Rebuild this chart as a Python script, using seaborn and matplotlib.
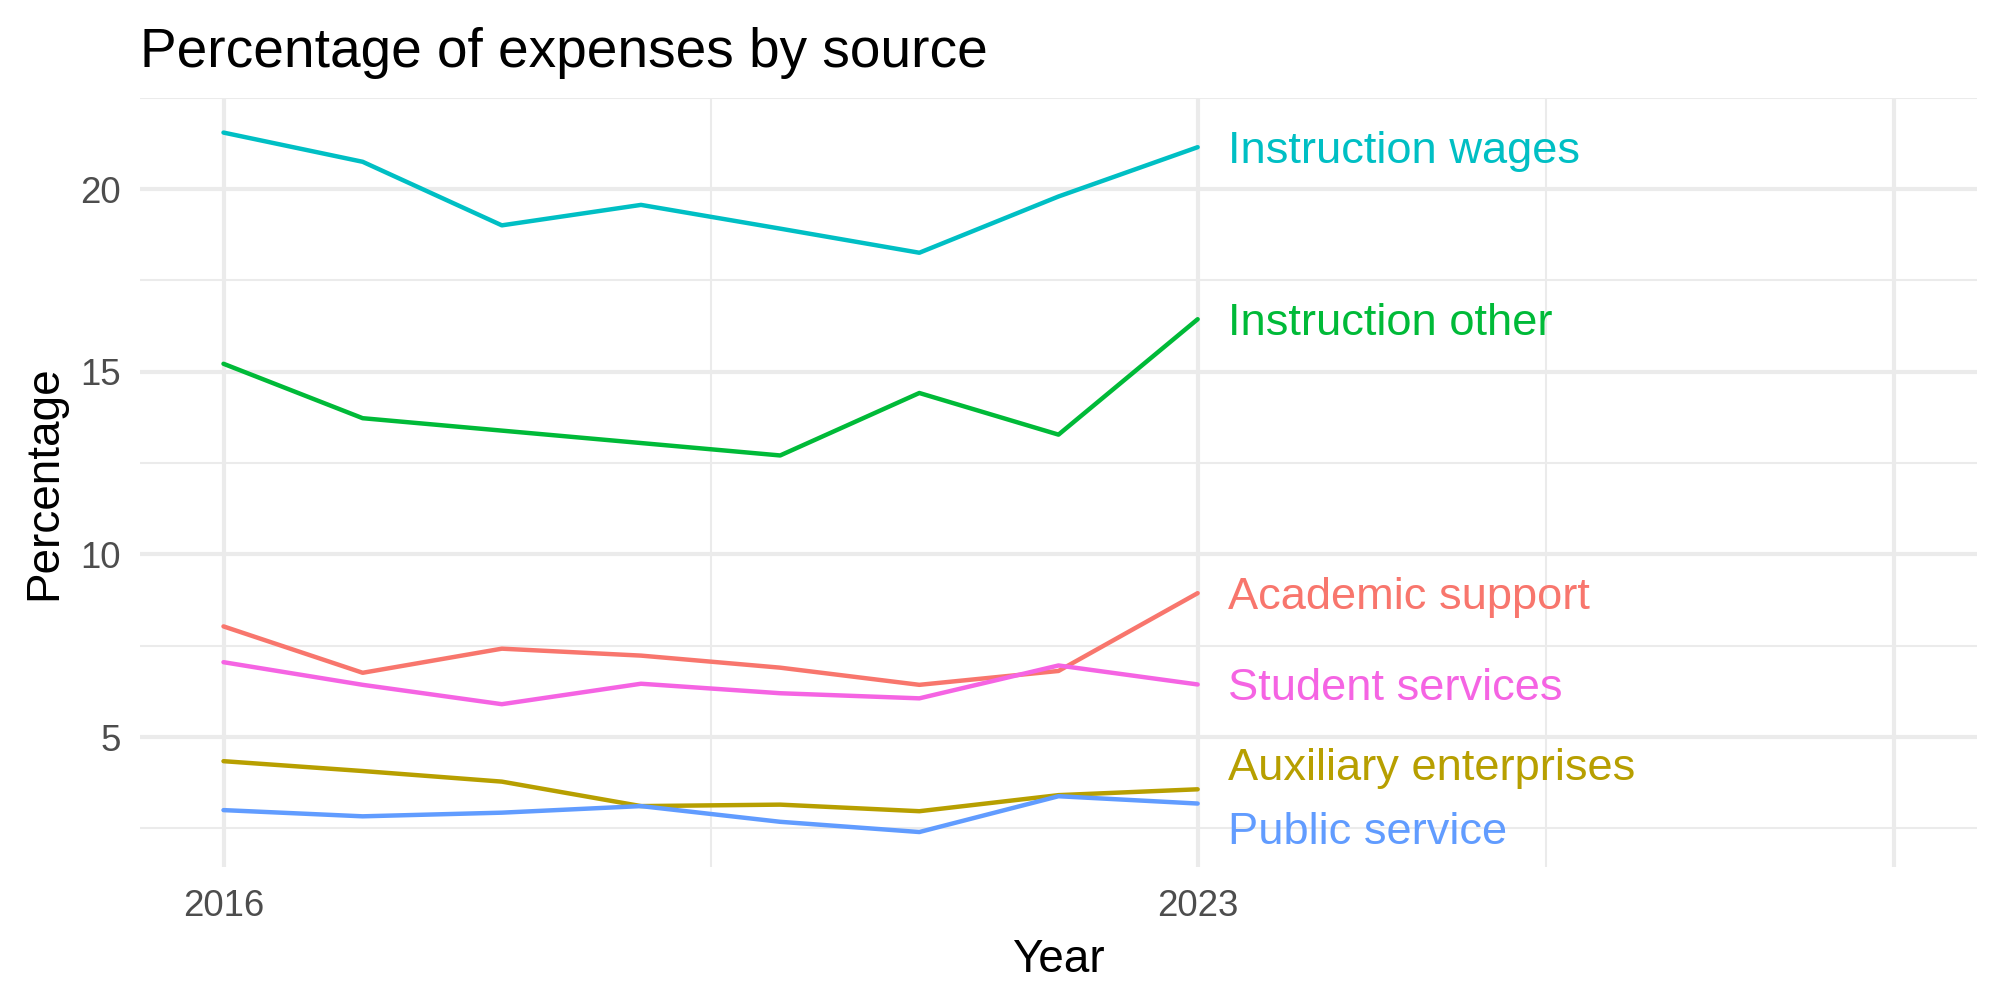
import numpy as np
import pandas as pd
import matplotlib
matplotlib.use('Agg')
import matplotlib.pyplot as plt
import matplotlib.ticker as mticker
import seaborn as sns

# Values
years = [2016, 2017, 2018, 2019, 2020, 2021, 2022, 2023]
academic_support = [8.03, 6.76, 7.42, 7.23, 6.90, 6.43, 6.81, 8.94]
auxiliary_enterprises = [4.34, 4.07, 3.78, 3.11, 3.15, 2.97, 3.41, 3.57]
instruction_other = [15.22, 13.73, 13.39, 13.05, 12.71, 14.42, 13.28, 16.44]
instruction_wages = [21.55, 20.75, 19.01, 19.57, 18.92, 18.26, 19.80, 21.15]
public_service = [3.00, 2.83, 2.93, 3.11, 2.68, 2.40, 3.38, 3.18]
student_services = [7.05, 6.43, 5.90, 6.46, 6.20, 6.06, 6.96, 6.44]

x_ticks = [2016, 2023, 2028]
x_tick_labels = ['2016', '2023', '']
y_ticks = [5, 10, 15, 20]

series = {
    'Academic support': academic_support,
    'Auxiliary enterprises': auxiliary_enterprises,
    'Instruction other': instruction_other,
    'Instruction wages': instruction_wages,
    'Public service': public_service,
    'Student services': student_services,
}

# ggplot2 default hue palette (alphabetical order)
colors = {
    'Academic support': '#F8766D',
    'Auxiliary enterprises': '#B79F00',
    'Instruction other': '#00BA38',
    'Instruction wages': '#00BFC4',
    'Public service': '#619CFF',
    'Student services': '#F564E3',
}

df = pd.concat(
    [pd.DataFrame({'Year': years, 'Percentage': vals, 'Source': name})
     for name, vals in series.items()],
    ignore_index=True,
)

sns.set_theme(style='white')
plt.rcParams['font.family'] = ['Liberation Sans', 'DejaVu Sans']

fig, ax = plt.subplots(figsize=(10, 5), dpi=200)
fig.subplots_adjust(left=0.07, right=0.9885, top=0.9024, bottom=0.133)

sns.lineplot(data=df, x='Year', y='Percentage', hue='Source', palette=colors,
             linewidth=1.6, legend=False, ax=ax)

# simple label repel: push apart end labels that sit too close
last = {name: vals[-1] for name, vals in series.items()}
order = sorted(last, key=last.get)
label_y = dict(last)
min_gap = 1.75
for a, b in zip(order[:-1], order[1:]):
    gap = label_y[b] - label_y[a]
    if gap < min_gap:
        shift = (min_gap - gap) / 2
        label_y[a] -= shift
        label_y[b] += shift

for name in series:
    ax.text(years[-1] + 0.22, label_y[name], name, color=colors[name],
            fontsize=16.3, ha='left', va='center_baseline')

ax.set_xlim(2015.4, 2028.6)
ax.margins(y=0.05)
ax.set_xticks(x_ticks)
ax.set_xticklabels(x_tick_labels)
ax.xaxis.set_minor_locator(mticker.FixedLocator([2019.5, 2025.5]))
ax.set_yticks(y_ticks)
ax.yaxis.set_minor_locator(mticker.FixedLocator([2.5, 7.5, 12.5, 17.5, 22.5]))

ax.grid(which='major', color='#EBEBEB', linewidth=1.5)
ax.grid(which='minor', color='#EBEBEB', linewidth=0.75)
ax.set_axisbelow(True)
for s in ax.spines.values():
    s.set_visible(False)

ax.tick_params(axis='both', which='both', length=0, labelsize=13.2,
               labelcolor='#4D4D4D')
ax.tick_params(axis='x', pad=8)
ax.tick_params(axis='y', pad=7)

ax.set_xlabel('Year', fontsize=16.5, color='black', labelpad=5)
ax.set_ylabel('Percentage', fontsize=16.5, color='black', labelpad=5)
ax.set_title('Percentage of expenses by source', loc='left', fontsize=19.8,
             color='black', pad=11)

plt.savefig('out.png', dpi=200, facecolor='white')
plt.close()
